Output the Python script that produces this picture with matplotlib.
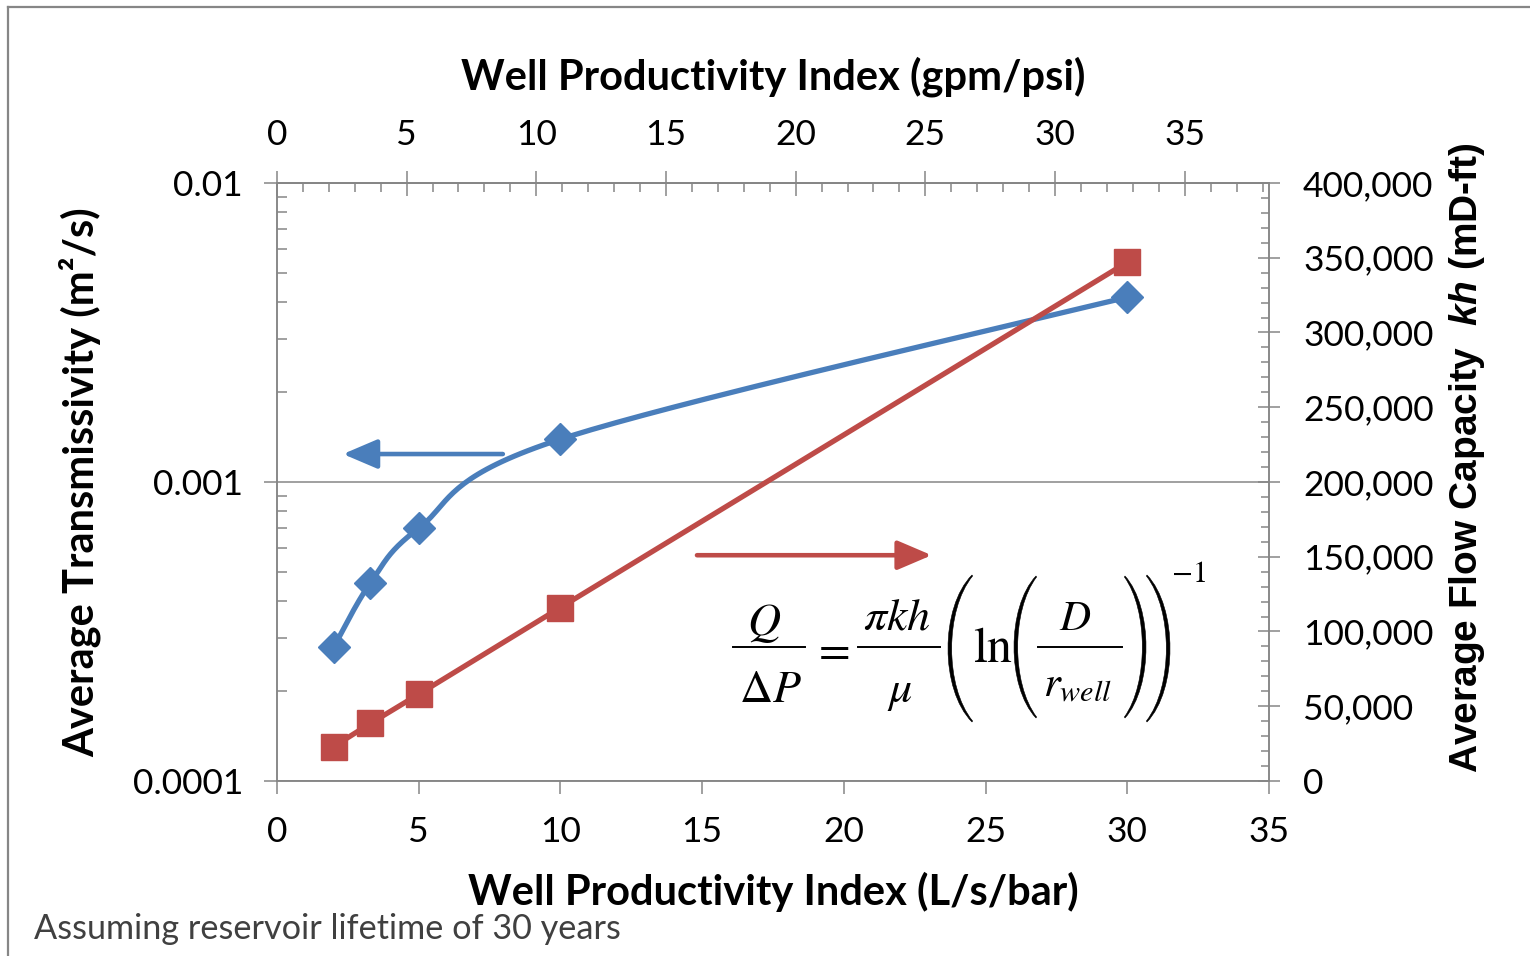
import numpy as np
import matplotlib.pyplot as plt
from matplotlib.lines import Line2D
from matplotlib.patches import PathPatch
from matplotlib.path import Path
from matplotlib.ticker import MultipleLocator, FuncFormatter, NullFormatter, LogLocator

plt.rcParams['font.family'] = ['Lato', 'DejaVu Sans']
plt.rcParams['mathtext.fontset'] = 'custom'
plt.rcParams['mathtext.bfit'] = 'Liberation Sans:italic:bold'

# well productivity index (L/s/bar) and the two measured quantities
q_lsbar = [2, 3.3, 5, 10, 30]
transmissivity = [2.8e-4, 4.6e-4, 7.0e-4, 1.39e-3, 4.15e-3]   # m2/s
flow_capacity = [23000, 38500, 58000, 116000, 347000]          # mD-ft

# 1 L/s/bar expressed in gpm/psi
LSBAR_TO_GPMPSI = 15.8503 / 14.5038

BLUE = '#4A7EBB'
RED = '#BE4B48'
GRAY = '#868686'
W, H = 1530, 956


def smooth_curve(xs, ys, n=40):
    # Excel style smoothed line: Catmull-Rom bezier segments
    p = np.column_stack([xs, ys])
    pts = np.vstack([p[0], p, p[-1]])
    out = []
    t = np.linspace(0, 1, n)[:, None]
    for i in range(1, len(pts) - 2):
        p0, p1, p2, p3 = pts[i - 1], pts[i], pts[i + 1], pts[i + 2]
        c1 = p1 + (p2 - p0) / 6
        c2 = p2 - (p3 - p1) / 6
        seg = ((1 - t) ** 3) * p1 + 3 * ((1 - t) ** 2) * t * c1 + 3 * (1 - t) * t ** 2 * c2 + t ** 3 * p2
        out.append(seg)
    seg = np.vstack(out)
    return seg[:, 0], seg[:, 1]


fig = plt.figure(figsize=(15.3, 9.56), dpi=100)
ax = fig.add_axes([0.1810, 0.1831, 0.6484, 0.6255])

# left axis: transmissivity, log scale
ax.set_yscale('log')
ax.set_xlim(0, 35)
ax.set_ylim(1e-4, 1e-2)
ax.xaxis.set_major_locator(MultipleLocator(5))
ax.yaxis.set_major_locator(LogLocator(base=10))
ax.yaxis.set_minor_locator(LogLocator(base=10, subs=np.arange(2, 10)))
ax.yaxis.set_minor_formatter(NullFormatter())
ax.yaxis.set_major_formatter(FuncFormatter(lambda v, p: f'{v:.10f}'.rstrip('0')))
ax.grid(True, axis='y', which='major', color=GRAY, lw=1.1)
ax.tick_params(axis='y', which='major', direction='out', length=9.5, width=1.1,
               color=GRAY, labelsize=25.5, pad=15)
ax.tick_params(axis='y', which='minor', direction='in', length=7, width=1.1, color=GRAY)
ax.tick_params(axis='x', which='major', direction='out', length=9.5, width=1.1,
               color=GRAY, labelsize=25.5, pad=16)
for s in ax.spines.values():
    s.set_color(GRAY)
    s.set_linewidth(1.1)

sx, sy = smooth_curve(q_lsbar, np.log10(transmissivity))
ax.plot(sx, 10 ** sy, color=BLUE, lw=3.8, solid_capstyle='round', zorder=3)
ax.plot(q_lsbar, transmissivity, ls='none', marker='D', ms=16, color=BLUE, zorder=4)
ax.annotate('', xy=(2.33, 1.24e-3), xytext=(7.97, 1.24e-3),
            arrowprops=dict(arrowstyle='-|>,head_length=0.75,head_width=0.32',
                            color=BLUE, lw=3.3, mutation_scale=28, shrinkA=0, shrinkB=0))

# right axis: flow capacity
ax2 = ax.twinx()
ax2.set_ylim(0, 400000)
ax2.yaxis.set_major_locator(MultipleLocator(50000))
ax2.yaxis.set_minor_locator(MultipleLocator(10000))
ax2.yaxis.set_major_formatter(FuncFormatter(lambda v, p: f'{v:,.0f}'))
ax2.tick_params(axis='y', which='major', direction='inout', length=16, width=1.1,
                color=GRAY, labelsize=25.5, pad=16.5)
ax2.tick_params(axis='y', which='minor', direction='in', length=6, width=1.1, color=GRAY)
for s in ax2.spines.values():
    s.set_color(GRAY)
    s.set_linewidth(1.1)

ax2.plot(q_lsbar, flow_capacity, color=RED, lw=3.8, marker='s', ms=19, zorder=3)
ax2.annotate('', xy=(23.1, 151000), xytext=(14.82, 151000),
             arrowprops=dict(arrowstyle='-|>,head_length=0.75,head_width=0.32',
                             color=RED, lw=3.3, mutation_scale=28, shrinkA=0, shrinkB=0))

# top axis: same index in gpm/psi
top = ax.secondary_xaxis('top', functions=(lambda x: x * LSBAR_TO_GPMPSI,
                                           lambda x: x / LSBAR_TO_GPMPSI))
top.xaxis.set_major_locator(MultipleLocator(5))
top.xaxis.set_minor_locator(MultipleLocator(1))
top.tick_params(axis='x', which='major', direction='inout', length=18, width=1.1,
                color=GRAY, labelsize=25.5, pad=14)
top.tick_params(axis='x', which='minor', direction='in', length=6.5, width=1.1, color=GRAY)
for s in top.spines.values():
    s.set_color(GRAY)
    s.set_linewidth(1.1)


# productivity equation, laid out piece by piece (pixel positions)
def eq_text(x, y, s, size, va='baseline'):
    fig.text(x / W, 1 - y / H, s, fontsize=size, ha='center', va=va,
             math_fontfamily='stix', family='STIXGeneral')


def eq_bar(x0, x1, y):
    fig.add_artist(Line2D([x0 / W, x1 / W], [1 - y / H] * 2, color='black', lw=1.4))


def eq_paren(x0, x1, y0, y1, left=True, thick=3.5):
    # tall thin delimiter: crescent between two cubic curves
    h = y1 - y0
    if left:
        tip, bulge, inner = x1, x0, x0 + thick
    else:
        tip, bulge, inner = x0, x1, x1 - thick
    c_out = (bulge - 0.25 * tip) / 0.75
    c_in = (inner - 0.25 * tip) / 0.75
    step = 0.6 if left else -0.6
    verts = [(tip, y0), (c_out, y0 + 0.22 * h), (c_out, y1 - 0.22 * h), (tip, y1),
             (tip + step, y1 - 1), (c_in, y1 - 0.24 * h), (c_in, y0 + 0.24 * h),
             (tip + step, y0 + 1), (tip, y0)]
    codes = [Path.MOVETO, Path.CURVE4, Path.CURVE4, Path.CURVE4, Path.LINETO,
             Path.CURVE4, Path.CURVE4, Path.CURVE4, Path.CLOSEPOLY]
    verts = [(vx / W, 1 - vy / H) for vx, vy in verts]
    fig.add_artist(PathPatch(Path(verts, codes), transform=fig.transFigure,
                             fc='black', ec='black', lw=0.4))


eq_text(764, 635, r'$Q$', 33)
eq_bar(733, 805, 647)
eq_text(770, 702, r'$\Delta P$', 33)
eq_text(831, 662, r'$=$', 33)
eq_text(897, 630, r'$\pi kh$', 33)
eq_bar(858, 940, 647)
eq_text(900, 702, r'$\mu$', 33)
eq_paren(948, 972, 575, 722, left=True)
eq_text(993, 662, r'$\mathrm{ln}$', 36)
eq_paren(1014, 1036, 576, 718, left=True)
eq_text(1075, 630, r'$D$', 31)
eq_bar(1038, 1122, 647)
eq_text(1077, 697, r'$r_{well}$', 31)
eq_paren(1125, 1146, 576, 718, left=False)
eq_paren(1147, 1170, 575, 722, left=False)
eq_text(1190, 582, '\u22121', 22)

fig.text(0.5052, 0.9195, 'Well Productivity Index (gpm/psi)', fontsize=30,
         fontweight='bold', ha='center', va='center')
fig.text(0.5052, 0.0669, 'Well Productivity Index (L/s/bar)', fontsize=30,
         fontweight='bold', ha='center', va='center')
fig.text(0.0523, 0.4958, 'Average Transmissivity (m²/s)', fontsize=30,
         fontweight='bold', ha='center', va='center', rotation=90)
fig.text(0.9588, 0.5209, r'Average Flow Capacity  $\mathbfit{kh}$ (mD-ft)', fontsize=28,
         fontweight='bold', family='Liberation Sans', ha='center', va='center', rotation=90)
fig.text(0.0222, 0.0282, 'Assuming reservoir lifetime of 30 years', fontsize=24.7,
         color='#404040', ha='left', va='center')

# slide frame on the top and left edges
fig.add_artist(Line2D([0.0052, 1.0], [0.9927, 0.9927], color=GRAY, lw=1.6))
fig.add_artist(Line2D([0.0052, 0.0052], [0.0, 0.9927], color=GRAY, lw=1.6))

fig.savefig('out.png', dpi=100)
